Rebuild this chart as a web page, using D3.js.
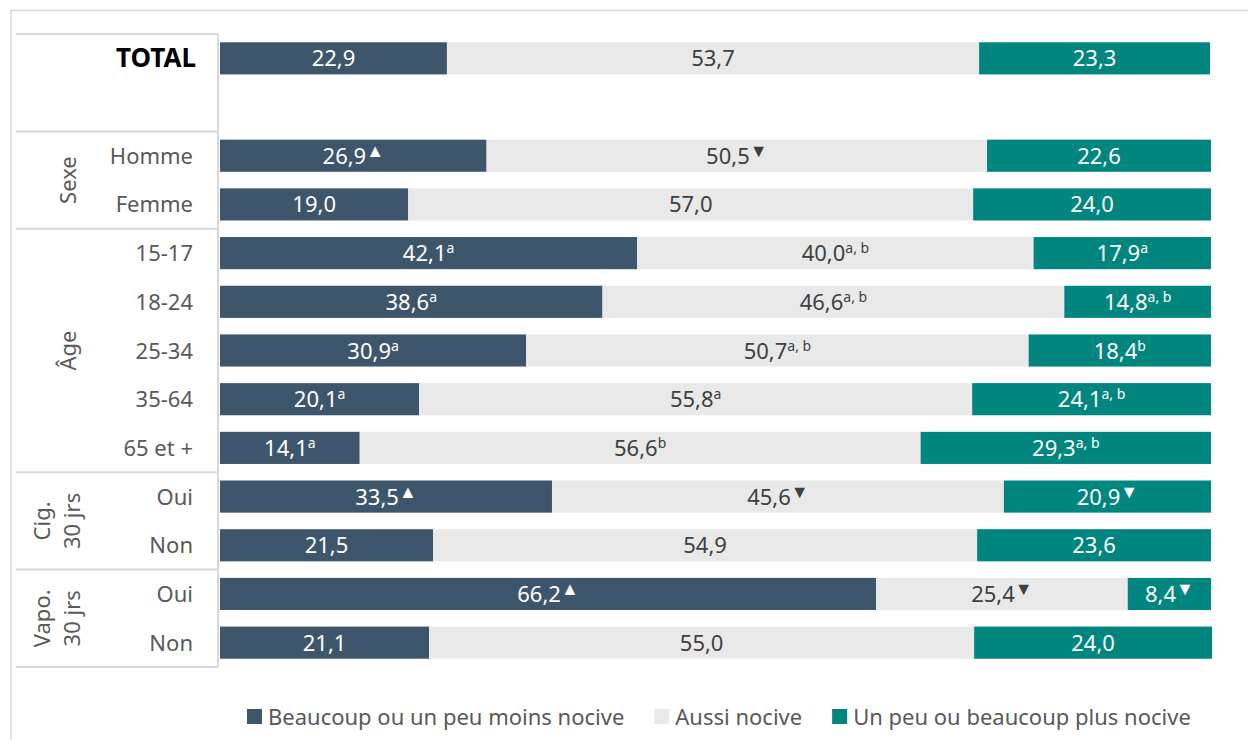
<!doctype html>
<html lang="fr">
<head>
  <meta charset="utf-8">
  <title>Perception de la nocivité</title>
  <script src="https://cdn.jsdelivr.net/npm/d3@7"></script>
  <style>
    body { margin: 0; background: #fff; font-family: "Noto Sans", "Open Sans", sans-serif; }
  </style>
</head>
<body>
<svg width="1248" height="740"></svg>
<script>
// rows (one empty slot after TOTAL)
const rowKeys   = ["total", "gap", "homme", "femme", "a1517", "a1824", "a2534", "a3564", "a65", "cigOui", "cigNon", "vapOui", "vapNon"];
const rowLabels = ["TOTAL", "", "Homme", "Femme", "15-17", "18-24", "25-34", "35-64", "65 et +", "Oui", "Non", "Oui", "Non"];

const seriesNames = ["Beaucoup ou un peu moins nocive", "Aussi nocive", "Un peu ou beaucoup plus nocive"];
const moins = [22.9, null, 26.9, 19.0, 42.1, 38.6, 30.9, 20.1, 14.1, 33.5, 21.5, 66.2, 21.1];
const aussi = [53.7, null, 50.5, 57.0, 40.0, 46.6, 50.7, 55.8, 56.6, 45.6, 54.9, 25.4, 55.0];
const plus  = [23.3, null, 22.6, 24.0, 17.9, 14.8, 18.4, 24.1, 29.3, 20.9, 23.6, 8.4, 24.0];

// significance marks next to each value
const moinsMarks = ["", "", "▲", "", "a", "a", "a", "a", "a", "▲", "", "▲", ""];
const aussiMarks = ["", "", "▼", "", "a, b", "a, b", "a, b", "a", "b", "▼", "", "▼", ""];
const plusMarks  = ["", "", "", "", "a", "a, b", "b", "a, b", "a, b", "▼", "", "▼", ""];

const groupNames = [["Sexe"], ["Âge"], ["Cig.", "30 jrs"], ["Vapo.", "30 jrs"]];
const groupRows  = [["homme", "femme"], ["a1517", "a1824", "a2534", "a3564", "a65"], ["cigOui", "cigNon"], ["vapOui", "vapNon"]];

const colors = ["#3d566c", "#e9e9e9", "#00857f"];
const textColors = ["#ffffff", "#404040", "#ffffff"];

const svg = d3.select("svg");

const x = d3.scaleLinear().domain([0, 100]).range([220, 1211]);
const y = d3.scaleBand().domain(rowKeys).range([34, 667]).paddingInner(0.34).paddingOuter(0.17);
const half = y.step() * y.paddingInner() / 2;

// outer frame
svg.append("line").attr("x1", 10).attr("x2", 1248).attr("y1", 10.5).attr("y2", 10.5)
  .attr("stroke", "#d9d9d9").attr("stroke-width", 1.5);
svg.append("line").attr("x1", 11).attr("x2", 11).attr("y1", 10).attr("y2", 740)
  .attr("stroke", "#d9d9d9").attr("stroke-width", 1.5);

// table lines on the left
const lineRows = ["total", "homme", "a1517", "cigOui", "vapOui"];
const lineYs = lineRows.map(k => y(k) - half).concat([y("vapNon") + y.bandwidth() + half]);
svg.selectAll(".tline").data(lineYs).join("line")
  .attr("class", "tline")
  .attr("x1", 16).attr("x2", 218)
  .attr("y1", d => d).attr("y2", d => d)
  .attr("stroke", "#d9d9d9").attr("stroke-width", 2);
svg.append("line").attr("x1", 218).attr("x2", 218)
  .attr("y1", lineYs[0]).attr("y2", lineYs[lineYs.length - 1])
  .attr("stroke", "#d9d9d9").attr("stroke-width", 2);

// build stacked segments
const series = [moins, aussi, plus];
const marks = [moinsMarks, aussiMarks, plusMarks];
const segs = [];
rowKeys.forEach((k, i) => {
  let acc = 0;
  series.forEach((s, j) => {
    if (s[i] == null) return;
    segs.push({ key: k, s: j, x0: acc, x1: acc + s[i], v: s[i], mark: marks[j][i] });
    acc += s[i];
  });
});

svg.selectAll(".seg").data(segs).join("rect")
  .attr("class", "seg")
  .attr("x", d => x(d.x0))
  .attr("width", d => x(d.x1) - x(d.x0))
  .attr("y", d => y(d.key))
  .attr("height", y.bandwidth())
  .attr("fill", d => colors[d.s]);

const fmt = v => v.toFixed(1).replace(".", ",");
const isTri = m => m === "▲" || m === "▼";

const labels = svg.selectAll(".lbl").data(segs).join("text")
  .attr("class", "lbl")
  .attr("x", d => (x(d.x0) + x(d.x1)) / 2)
  .attr("y", d => y(d.key) + y.bandwidth() / 2 + 8)
  .attr("text-anchor", "middle")
  .attr("fill", d => textColors[d.s])
  .style("font-size", "22px");
labels.append("tspan").text(d => fmt(d.v));
labels.filter(d => d.mark).append("tspan")
  .attr("dy", d => isTri(d.mark) ? -7 : -8)
  .style("font-size", d => isTri(d.mark) ? "18px" : "14px")
  .text(d => d.mark);

// row labels
svg.selectAll(".rlbl").data(rowKeys.filter((k, i) => rowLabels[i] && k !== "total")).join("text")
  .attr("class", "rlbl")
  .attr("x", 193)
  .attr("y", k => y(k) + y.bandwidth() / 2 + 8)
  .attr("text-anchor", "end")
  .attr("fill", "#595959")
  .style("font-size", "22px")
  .text(k => rowLabels[rowKeys.indexOf(k)]);

svg.append("text")
  .attr("x", 196)
  .attr("y", y("total") + y.bandwidth() / 2 + 9)
  .attr("text-anchor", "end")
  .attr("fill", "#000")
  .style("font-size", "26px")
  .style("font-weight", "bold")
  .text(rowLabels[0]);

// group labels, rotated
groupNames.forEach((lines, gi) => {
  const rows = groupRows[gi];
  const cy = d3.mean(rows, k => y(k) + y.bandwidth() / 2);
  const cx = lines.length === 1 ? 68 : 57;
  const t = svg.append("text")
    .attr("transform", `translate(${cx},${cy}) rotate(-90)`)
    .attr("text-anchor", "middle")
    .attr("fill", "#595959")
    .style("font-size", "22px");
  lines.forEach((ln, li) => {
    t.append("tspan")
      .attr("x", 0)
      .attr("y", (li - (lines.length - 1) / 2) * 30 + 8)
      .text(ln);
  });
});

// legend
const legend = svg.append("g").attr("transform", "translate(247,717)");
let lx = 0;
seriesNames.forEach((name, i) => {
  const g = legend.append("g").attr("transform", `translate(${lx},0)`);
  g.append("rect").attr("x", 0).attr("y", -8).attr("width", 15).attr("height", 15).attr("fill", colors[i]);
  const t = g.append("text").attr("x", 21).attr("y", 8)
    .attr("fill", "#595959").style("font-size", "22px").text(name);
  lx += 21 + t.node().getComputedTextLength() + 30;
});
</script>
</body>
</html>
